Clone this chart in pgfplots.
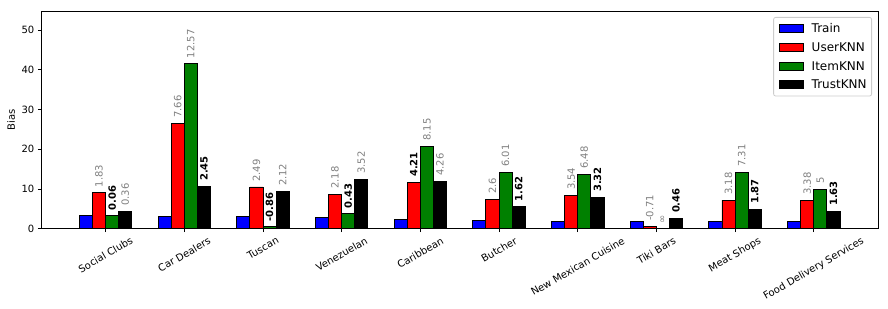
\documentclass[border=0pt]{standalone}
\usepackage{fontspec}
\setmainfont{DejaVu Sans}
\usepackage{graphicx}
\usepackage{pgfplots}
\pgfplotsset{compat=1.18}
\definecolor{lblgray}{RGB}{128,128,128}
\definecolor{mplgreen}{RGB}{0,128,0}
\definecolor{legedge}{RGB}{204,204,204}
\newcommand\G[1]{\textcolor{lblgray}{#1}}
\newcommand\B[1]{\textbf{#1}}
\pgfplotsset{mylegend/.style={legend image code/.code={\draw[##1,sharp corners,line width=0.8pt,draw=black] (0pt,-4pt) rectangle (24pt,4pt);}}}
\begin{document}
\begin{tikzpicture}
\useasboundingbox (0,0) rectangle (888pt,308pt);
\begin{axis}[
  at={(41.3pt,79.3pt)}, anchor=south west,
  scale only axis, width=836.7pt, height=217.7pt,
  ybar=0pt, bar width=0.1667,
  xmin=-0.8167, xmax=9.8167, ymin=0, ymax=54.8,
  xtick={0,...,9},
  xticklabels={{\rotatebox{30}{Social Clubs}},{\rotatebox{30}{Car Dealers}},{\rotatebox{30}{Tuscan}},{\rotatebox{30}{Venezuelan}},{\rotatebox{30}{Caribbean}},{\rotatebox{30}{Butcher}},{\rotatebox{30}{New Mexican Cuisine}},{\rotatebox{30}{Tiki Bars}},{\rotatebox{30}{Meat Shops}},{\rotatebox{30}{Food Delivery Services}}},
  x tick label style={anchor=north, inner sep=0pt, yshift=-4pt},
  ytick={0,10,20,30,40,50},
  tick align=outside, xtick pos=bottom, ytick pos=left,
  major tick length=3.5pt,
  every tick/.style={black, line width=0.8pt},
  axis line style={line width=0.8pt},
  tick label style={font=\fontsize{10}{12}\selectfont},
  /pgf/number format/assume math mode=true,
  ylabel={Bias},
  ylabel style={font=\fontsize{10}{12}\selectfont, at={(axis description cs:-0.036,0.5)}, anchor=center},
  every axis plot/.append style={draw=black, line width=0.8pt},
  every axis plot post/.append style={mylegend},
  nodes near coords style={rotate=90, anchor=west, inner xsep=5pt, inner ysep=0pt, font=\fontsize{10}{12}\selectfont},
  legend style={at={(1,1)}, anchor=north east, xshift=-6pt, yshift=-6pt, draw=legedge, line width=0.8pt, rounded corners=2pt,
    font=\fontsize{12}{14}\selectfont, row sep=7.2pt, inner xsep=5pt, inner ysep=5.5pt,
    nodes={inner sep=0pt, text height=10pt, text depth=1.5pt},
    /tikz/every odd column/.append style={column sep=8.3pt}},
  legend cell align=left,
]
\addplot[fill=blue] coordinates {(0,3.3) (1,3.1) (2,3.1) (3,2.9) (4,2.4) (5,2.1) (6,1.85) (7,1.85) (8,1.85) (9,1.85)};
\addlegendentry{Train}
\addplot[fill=red, nodes near coords, point meta=explicit symbolic] coordinates {
 (0,9.1) [\G{1.83}] (1,26.6) [\G{7.66}] (2,10.5) [\G{2.49}] (3,8.7) [\G{2.18}] (4,11.7) [\B{4.21}]
 (5,7.4) [\G{2.6}] (6,8.4) [\G{3.54}] (7,0.6) [\G{-0.71}] (8,7.2) [\G{3.18}] (9,7.2) [\G{3.38}]};
\addlegendentry{UserKNN}
\addplot[fill=mplgreen, nodes near coords, point meta=explicit symbolic] coordinates {
 (0,3.3) [\B{0.06}] (1,41.6) [\G{12.57}] (2,0.5) [\B{-0.86}] (3,3.8) [\B{0.43}] (4,20.8) [\G{8.15}]
 (5,14.25) [\G{6.01}] (6,13.7) [\G{6.48}] (7,0) [\G{∞}] (8,14.25) [\G{7.31}] (9,9.95) [\G{5}]};
\addlegendentry{ItemKNN}
\addplot[fill=black, nodes near coords, point meta=explicit symbolic] coordinates {
 (0,4.4) [\G{0.36}] (1,10.7) [\B{2.45}] (2,9.4) [\G{2.12}] (3,12.5) [\G{3.52}] (4,12.0) [\G{4.26}]
 (5,5.5) [\B{1.62}] (6,7.9) [\B{3.32}] (7,2.6) [\B{0.46}] (8,4.9) [\B{1.87}] (9,4.4) [\B{1.63}]};
\addlegendentry{TrustKNN}
\end{axis}
\end{tikzpicture}
\end{document}
